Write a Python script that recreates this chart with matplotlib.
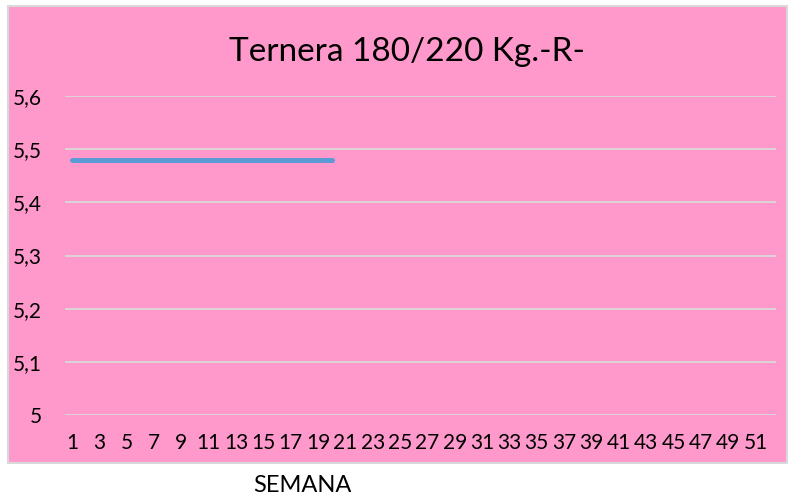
import matplotlib
matplotlib.use('Agg')
import matplotlib.pyplot as plt
from matplotlib.patches import Rectangle
from matplotlib.ticker import FixedLocator, FuncFormatter

plt.rcParams['font.family'] = ['Lato', 'DejaVu Sans']

weeks = list(range(1, 53))
price_weeks = list(range(1, 21))
price = [5.48] * 20
y_ticks = [5.0, 5.1, 5.2, 5.3, 5.4, 5.5, 5.6]

W, H = 795, 495
fig = plt.figure(figsize=(W / 100, H / 100), dpi=100, facecolor='white')

# pink chart area with thin grey border
fig.patches.append(Rectangle((8 / W, 1 - 463 / H), (W - 8.5) / W - 8 / W, (463 - 6) / H,
                             transform=fig.transFigure, facecolor='#FF99CC',
                             edgecolor='#D9D9D9', linewidth=1.5, zorder=-5))

ax = fig.add_axes([65 / W, 1 - 415 / H, (776 - 65) / W, (415 - 96) / H])
ax.set_facecolor('none')
ax.set_zorder(2)

ax.plot(price_weeks, price, color='#5B9BD5', linewidth=3.6, solid_capstyle='round', zorder=3)

ax.set_xlim(0.5, 52.5)
ax.set_ylim(5.0, 5.6)
ax.yaxis.set_major_locator(FixedLocator(y_ticks))
ax.yaxis.set_major_formatter(FuncFormatter(
    lambda v, p: ('%g' % round(v, 1)).replace('.', ',')))
ax.set_xticks(weeks[::2])
ax.set_xticklabels([str(w) for w in weeks[::2]])

ax.grid(axis='y', color='#D9D9D9', linewidth=1.3)
ax.set_axisbelow(True)
for s in ax.spines.values():
    s.set_visible(False)
ax.tick_params(length=0, labelsize=15, colors='#000000')
ax.tick_params(axis='y', pad=16.5)
ax.tick_params(axis='x', pad=13)

fig.text(407 / W, 1 - 52 / H, 'Ternera 180/220 Kg.-R-', fontsize=24,
         ha='center', va='center')
fig.text(302 / W, 1 - 485 / H, 'SEMANA', fontsize=17, ha='center', va='center')

fig.savefig('out.png', dpi=100, facecolor='white')
